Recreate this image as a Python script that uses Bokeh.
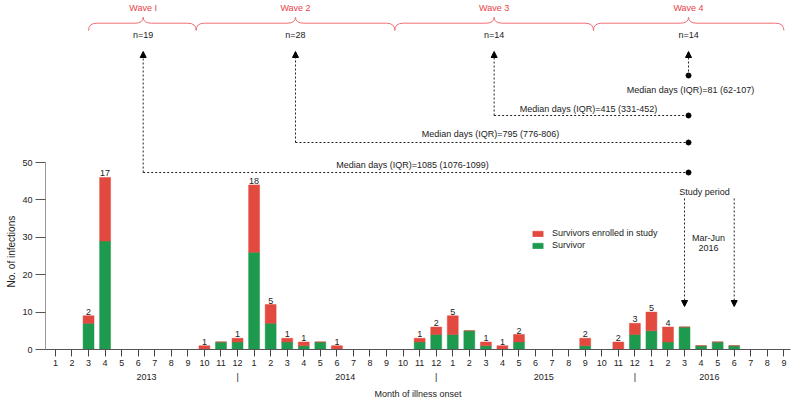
import math
from bokeh.plotting import figure
from bokeh.models import (Range1d, FixedTicker, Arrow, NormalHead, Legend,
                          LegendItem, ColumnDataSource, LinearAxis, Title)
from bokeh.embed import file_html
from bokeh.resources import INLINE
from bokeh.core.properties import value

# ---------------- data ----------------
month_labels = [1, 2, 3, 4, 5, 6, 7, 8, 9, 10, 11, 12,
                1, 2, 3, 4, 5, 6, 7, 8, 9, 10, 11, 12,
                1, 2, 3, 4, 5, 6, 7, 8, 9, 10, 11, 12,
                1, 2, 3, 4, 5, 6, 7, 8, 9]
year_labels = ["2013", "2014", "2015", "2016"]
survivor = [0, 0, 7, 29, 0, 0, 0, 0, 0, 0, 2, 2,
            26, 7, 2, 1, 2, 0, 0, 0, 0, 0, 2, 4,
            4, 5, 1, 0, 2, 0, 0, 0, 1, 0, 0, 4,
            5, 2, 6, 1, 2, 1, 0, 0, 0]
enrolled = [0, 0, 2, 17, 0, 0, 0, 0, 0, 1, 0, 1,
            18, 5, 1, 1, 0, 1, 0, 0, 0, 0, 1, 2,
            5, 0, 1, 1, 2, 0, 0, 0, 2, 0, 2, 3,
            5, 4, 0, 0, 0, 0, 0, 0, 0]
wave_names = ["Wave I", "Wave 2", "Wave 3", "Wave 4"]
wave_n = ["n=19", "n=28", "n=14", "n=14"]
median_texts = ["Median days (IQR)=1085 (1076-1099)",
                "Median days (IQR)=795 (776-806)",
                "Median days (IQR)=415 (331-452)",
                "Median days (IQR)=81 (62-107)"]
legend_labels = ["Survivors enrolled in study", "Survivor"]

# ---------------- layout helpers ----------------
FONT = "Liberation Sans"
RED = "#e24a3f"
GREEN = "#1e9a4f"
BRACE = "#ef6f76"
WAVE_TXT = "#e8414a"
TXT = "#222222"
Y0_PAGE = 349.0
PXU = 3.74


def Yp(py):
    return (Y0_PAGE - py) / PXU


def Xp(px):
    return (px - 45.0) / 16.556 - 0.6


n = len(month_labels)
xs = list(range(n))
totals = [s + e for s, e in zip(survivor, enrolled)]

src = ColumnDataSource(dict(x=xs, survivor=survivor, enrolled=enrolled))

p = figure(width=800, height=403, output_backend="svg", toolbar_location=None,
           x_range=Range1d(-0.6, 44.4), y_range=Range1d(0, Y0_PAGE / PXU),
           min_border_left=45, min_border_right=10, min_border_top=0,
           min_border_bottom=54)
p.outline_line_color = None
p.xgrid.visible = False
p.ygrid.visible = False

rs = p.vbar_stack(["survivor", "enrolled"], x="x", width=0.66, source=src,
                  color=[GREEN, RED], line_color=[GREEN, RED], line_width=0.5)

# bar labels (enrolled counts)
lx = [x for x, e in zip(xs, enrolled) if e > 0]
ly = [t for t, e in zip(totals, enrolled) if e > 0]
lt = [str(e) for e in enrolled if e > 0]
p.text(x=lx, y=ly, text=lt, text_align="center", text_baseline="bottom",
       y_offset=-1, text_font=value(FONT), text_font_size="9px", text_color=TXT)

# axes
xa = p.xaxis[0]
xa.ticker = FixedTicker(ticks=xs)
xa.major_label_overrides = {i: str(m) for i, m in enumerate(month_labels)}
xa.major_tick_out = 7
xa.major_tick_in = 0
xa.minor_tick_line_color = None
xa.axis_line_color = "#555555"
xa.major_tick_line_color = "#444444"
xa.major_label_text_font = FONT
xa.major_label_text_font_size = "9px"
xa.major_label_text_color = TXT
xa.major_label_standoff = 3

year_pos = [5.5, 17.5, 29.5, 39.5]
sep_pos = [11, 23, 35]
overrides = {}
for yp_, yl in zip(year_pos, year_labels):
    overrides[yp_] = yl
for sp in sep_pos:
    overrides[sp] = "|"
xa2 = LinearAxis(ticker=FixedTicker(ticks=sorted(year_pos + sep_pos)),
                 major_label_overrides=overrides,
                 axis_line_color=None, major_tick_line_color=None,
                 minor_tick_line_color=None, major_tick_out=0, major_tick_in=0,
                 major_label_standoff=3, major_label_text_font=FONT,
                 major_label_text_font_size="9px", major_label_text_color=TXT,
                 axis_label="Month of illness onset", axis_label_standoff=4,
                 axis_label_text_font=FONT, axis_label_text_font_size="9px",
                 axis_label_text_font_style="normal", axis_label_text_color=TXT)
p.add_layout(xa2, "below")

ya = p.yaxis[0]
ya.ticker = FixedTicker(ticks=[0, 10, 20, 30, 40, 50])
ya.bounds = (0, 50)
ya.major_tick_out = 10
ya.major_tick_in = 0
ya.minor_tick_line_color = None
ya.axis_line_color = "#999999"
ya.major_tick_line_color = "#555555"
ya.major_label_text_font = FONT
ya.major_label_text_font_size = "9px"
ya.major_label_text_color = TXT
ya.major_label_standoff = 3

# y-axis title as a left-side title, aligned to the 0-50 span
ytitle = Title(text="No. of infections", align="left", offset=62, standoff=6,
               text_font=FONT, text_font_size="10px", text_font_style="normal",
               text_color=TXT)
p.add_layout(ytitle, "left")

# ---------------- wave braces ----------------
w_start = [2.0, 8.5, 20.5, 32.5]
w_end = [8.5, 20.5, 32.5, 44.0]
w_tip = [5.3, 14.5, 26.5, 38.24]
y_end, y_h, y_tip = Yp(30), Yp(22.7), Yp(16.7)
r = 0.5
qx0, qy0, qx1, qy1, qcx, qcy = [], [], [], [], [], []
sx0, sy0, sx1, sy1 = [], [], [], []
for a, b, m in zip(w_start, w_end, w_tip):
    qx0 += [a]; qy0 += [y_end]; qx1 += [a + r]; qy1 += [y_h]; qcx += [a]; qcy += [y_h]
    qx0 += [m - r]; qy0 += [y_h]; qx1 += [m]; qy1 += [y_tip]; qcx += [m]; qcy += [y_h]
    qx0 += [m + r]; qy0 += [y_h]; qx1 += [m]; qy1 += [y_tip]; qcx += [m]; qcy += [y_h]
    qx0 += [b - r]; qy0 += [y_h]; qx1 += [b]; qy1 += [y_end]; qcx += [b]; qcy += [y_h]
    sx0 += [a + r, m + r]; sx1 += [m - r, b - r]; sy0 += [y_h, y_h]; sy1 += [y_h, y_h]
p.quadratic(x0=qx0, y0=qy0, x1=qx1, y1=qy1, cx=qcx, cy=qcy, line_color=BRACE, line_width=1)
p.segment(x0=sx0, y0=sy0, x1=sx1, y1=sy1, line_color=BRACE, line_width=1)

p.text(x=w_tip, y=[Yp(7.5)] * 4, text=wave_names, text_align="center", text_baseline="middle",
       text_font=value(FONT), text_font_size="9px", text_color=WAVE_TXT)
p.text(x=w_tip, y=[Yp(34)] * 4, text=wave_n, text_align="center", text_baseline="middle",
       text_font=value(FONT), text_font_size="9px", text_color=TXT)

# ---------------- median arrows ----------------
line_y = [Yp(172), Yp(142), Yp(115), Yp(75)]
x_dot = w_tip[3]
for i in range(4):
    p.add_layout(Arrow(end=NormalHead(size=6, fill_color="black", line_color="black"),
                       x_start=w_tip[i], y_start=line_y[i], x_end=w_tip[i], y_end=Yp(51),
                       line_dash="2 2", line_width=1, line_color=TXT))
p.segment(x0=w_tip[:3], y0=line_y[:3], x1=[x_dot] * 3, y1=line_y[:3],
          line_dash="2 2", line_width=1, line_color=TXT)
p.scatter(x=[x_dot] * 4, y=line_y, size=5, color="black")

text_x = [Xp(412), Xp(490), Xp(588), Xp(690)]
text_y = [Yp(164), Yp(133), Yp(108), Yp(89)]
p.text(x=text_x, y=text_y, text=median_texts, text_align="center", text_baseline="middle",
       text_font=value(FONT), text_font_size="9px", text_color=TXT)

# ---------------- study period ----------------
for xi in [38, 41]:
    p.add_layout(Arrow(end=NormalHead(size=6, fill_color="black", line_color="black"),
                       x_start=xi, y_start=Yp(198), x_end=xi, y_end=Yp(306),
                       line_dash="2 2", line_width=1, line_color=TXT))
p.text(x=[Xp(704), Xp(708), Xp(708)], y=[Yp(191), Yp(237), Yp(247)],
       text=["Study period", "Mar-Jun", "2016"], text_align="center", text_baseline="middle",
       text_font=value(FONT), text_font_size="9px", text_color=TXT)

# ---------------- legend ----------------
legend = Legend(items=[LegendItem(label=legend_labels[0], renderers=[rs[1]]),
                       LegendItem(label=legend_labels[1], renderers=[rs[0]])],
                location=(486, 98), border_line_alpha=0, background_fill_alpha=0,
                padding=0, margin=0, spacing=0, glyph_width=13, glyph_height=7,
                label_height=12, label_standoff=8, label_text_font=FONT,
                label_text_font_size="9px", label_text_color=TXT)
p.add_layout(legend)

open("out.html", "w").write(file_html(p, INLINE))
